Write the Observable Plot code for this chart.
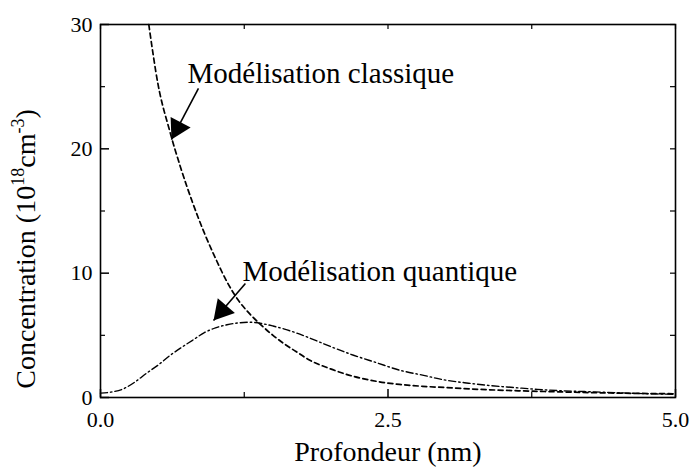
<!DOCTYPE html>
<html>
<head>
<meta charset="utf-8">
<script src="https://cdn.jsdelivr.net/npm/d3@7"></script>
<script src="https://cdn.jsdelivr.net/npm/@observablehq/plot@0.6"></script>
<style>
  html, body { margin: 0; padding: 0; background: white; }
  #chart { width: 693px; height: 470px; }
  #chart svg, #chart svg text, #chart svg g {
    font-family: 'Liberation Serif', 'Times New Roman', 'DejaVu Serif', serif !important;
  }
</style>
</head>
<body>
<div id="chart"></div>
<script>
// ---- Data ----
const classX = [0.42,0.5,0.6,0.7,0.8,0.9,1.0,1.1,1.2,1.3,1.4,1.5,1.6,1.7,1.8,2.0,2.2,2.4,2.6,2.8,3.0,3.3,3.6,4.0,4.5,5.0];
const classY = [30,25.2,21.5,18.4,15.7,13.3,11.2,9.3,7.8,6.7,5.8,5.0,4.3,3.7,3.1,2.3,1.7,1.3,1.05,0.9,0.8,0.65,0.55,0.45,0.35,0.3];

const quantX = [0,0.1,0.2,0.3,0.4,0.5,0.6,0.7,0.8,0.9,1.0,1.1,1.2,1.3,1.4,1.5,1.6,1.7,1.8,2.0,2.2,2.4,2.6,2.8,3.0,3.2,3.4,3.6,3.8,4.0,4.3,4.6,5.0];
const quantY = [0.35,0.45,0.7,1.25,1.95,2.6,3.35,4.0,4.6,5.2,5.6,5.85,6.0,6.05,5.95,5.75,5.5,5.2,4.85,4.1,3.4,2.8,2.2,1.8,1.4,1.15,0.95,0.8,0.65,0.55,0.45,0.35,0.25];

const xMajorTicks = [0, 2.5, 5];
const xMinorTicks = [1.25, 3.75];
const yMajorTicks = [0, 10, 20, 30];
const yMinorTicks = [5, 15, 25];

const annLabels = ["Modélisation classique", "Modélisation quantique"];
const annTextX = [0.757, 1.235];
const annTextY = [25.26, 9.41];
const arrowTailX = [0.852, 1.26];
const arrowTailY = [24.86, 9.17];
const arrowTipX = [0.617, 0.983];
const arrowTipY = [20.75, 6.19];

const xLabel = "Profondeur (nm)";
const yLabel = "Concentration (1018cm-3)";

// ---- Build tables ----
const classical = classX.map((x, i) => ({x, y: classY[i]}));
const quantum = quantX.map((x, i) => ({x, y: quantY[i]}));
const annotations = annLabels.map((t, i) => ({t, x: annTextX[i], y: annTextY[i]}));
const arrows = arrowTipX.map((x, i) => ({x1: arrowTailX[i], y1: arrowTailY[i], x2: x, y2: arrowTipY[i]}));

const W = 693, H = 470;
const mL = 100, mR = 18, mT = 24, mB = 73;
const fw = W - mL - mR, fh = H - mT - mB;
const xDom = [0, 5], yDom = [0, 30];
const pxX = fw / (xDom[1] - xDom[0]);
const pxY = fh / (yDom[1] - yDom[0]);

const font = "'Liberation Serif', 'Times New Roman', 'DejaVu Serif', serif";

// arrowheads: filled triangles placed at the tip
const headR = 8.4;
const headOffset = 2 * Math.sqrt((Math.PI * headR * headR) / (3 * Math.sqrt(3)));
const headMarks = arrows.map(a => {
  const dxp = (a.x2 - a.x1) * pxX;
  const dyp = -(a.y2 - a.y1) * pxY;
  const len = Math.hypot(dxp, dyp);
  const ux = dxp / len, uy = dyp / len;
  const angle = Math.atan2(ux, -uy) * 180 / Math.PI;
  return Plot.dot([a], {
    x: "x2", y: "y2", symbol: "triangle", r: headR, fill: "black", stroke: "none",
    rotate: angle, dx: -headOffset * ux, dy: -headOffset * uy
  });
});

const chart = Plot.plot({
  width: W, height: H,
  marginLeft: mL, marginRight: mR, marginTop: mT, marginBottom: mB,
  x: {domain: xDom},
  y: {domain: yDom},
  style: {fontFamily: font, background: "white", color: "black"},
  marks: [
    // inward tick marks: left & bottom (major / minor), right & top (small)
    Plot.ruleY(yMajorTicks, {y: d => d, insetRight: fw - 9, stroke: "black", strokeWidth: 1.5}),
    Plot.ruleY(yMinorTicks, {y: d => d, insetRight: fw - 5, stroke: "black", strokeWidth: 1.2}),
    Plot.ruleY(yMajorTicks.concat(yMinorTicks), {y: d => d, insetLeft: fw - 5, stroke: "black", strokeWidth: 1.2}),
    Plot.ruleX(xMajorTicks, {x: d => d, insetTop: fh - 8, stroke: "black", strokeWidth: 1.5}),
    Plot.ruleX(xMinorTicks, {x: d => d, insetTop: fh - 5, stroke: "black", strokeWidth: 1.2}),
    Plot.ruleX(xMajorTicks.concat(xMinorTicks), {x: d => d, insetBottom: fh - 5, stroke: "black", strokeWidth: 1.2}),
    Plot.frame({stroke: "black", strokeWidth: 1.6}),
    Plot.axisX(xMajorTicks, {tickSize: 0, tickPadding: 14, fontSize: 22, fontFamily: font, tickFormat: d => d.toFixed(1), label: null}),
    Plot.axisY(yMajorTicks, {tickSize: 0, tickPadding: 8, fontSize: 22, fontFamily: font, tickFormat: d => String(d), label: null}),
    // curves
    Plot.line(classical, {x: "x", y: "y", stroke: "black", strokeWidth: 1.7, strokeDasharray: "5,3.5", curve: "monotone-x"}),
    Plot.line(quantum, {x: "x", y: "y", stroke: "black", strokeWidth: 1.4, strokeDasharray: "7,3,1.5,3", curve: "monotone-x"}),
    // annotations
    Plot.link(arrows, {x1: "x1", y1: "y1", x2: "x2", y2: "y2", stroke: "black", strokeWidth: 1.6}),
    ...headMarks,
    Plot.text(annotations, {x: "x", y: "y", text: "t", textAnchor: "start", lineAnchor: "bottom", fontSize: 29, fontFamily: font, fill: "black"}),
    // axis labels
    Plot.text([xLabel], {frameAnchor: "bottom", text: d => d, dy: 63, textAnchor: "middle", lineAnchor: "bottom", fontSize: 28, fontFamily: font, fill: "black"}),
    Plot.text([yLabel], {frameAnchor: "left", text: d => d, rotate: -90, dx: -74, dy: 38, textAnchor: "middle", lineAnchor: "middle", fontSize: 28, fontFamily: font, fill: "black"})
  ]
});

// superscripts in the y label
d3.select(chart).selectAll("text").each(function() {
  if (this.textContent === yLabel) {
    const t = d3.select(this);
    t.text(null);
    t.append("tspan").text("Concentration (10");
    t.append("tspan").attr("font-size", 18).attr("dy", -11).text("18");
    t.append("tspan").attr("dy", 11).text("cm");
    t.append("tspan").attr("font-size", 18).attr("dy", -11).text("-3");
    t.append("tspan").attr("dy", 11).text(")");
  }
});

document.getElementById("chart").appendChild(chart);
</script>
</body>
</html>
